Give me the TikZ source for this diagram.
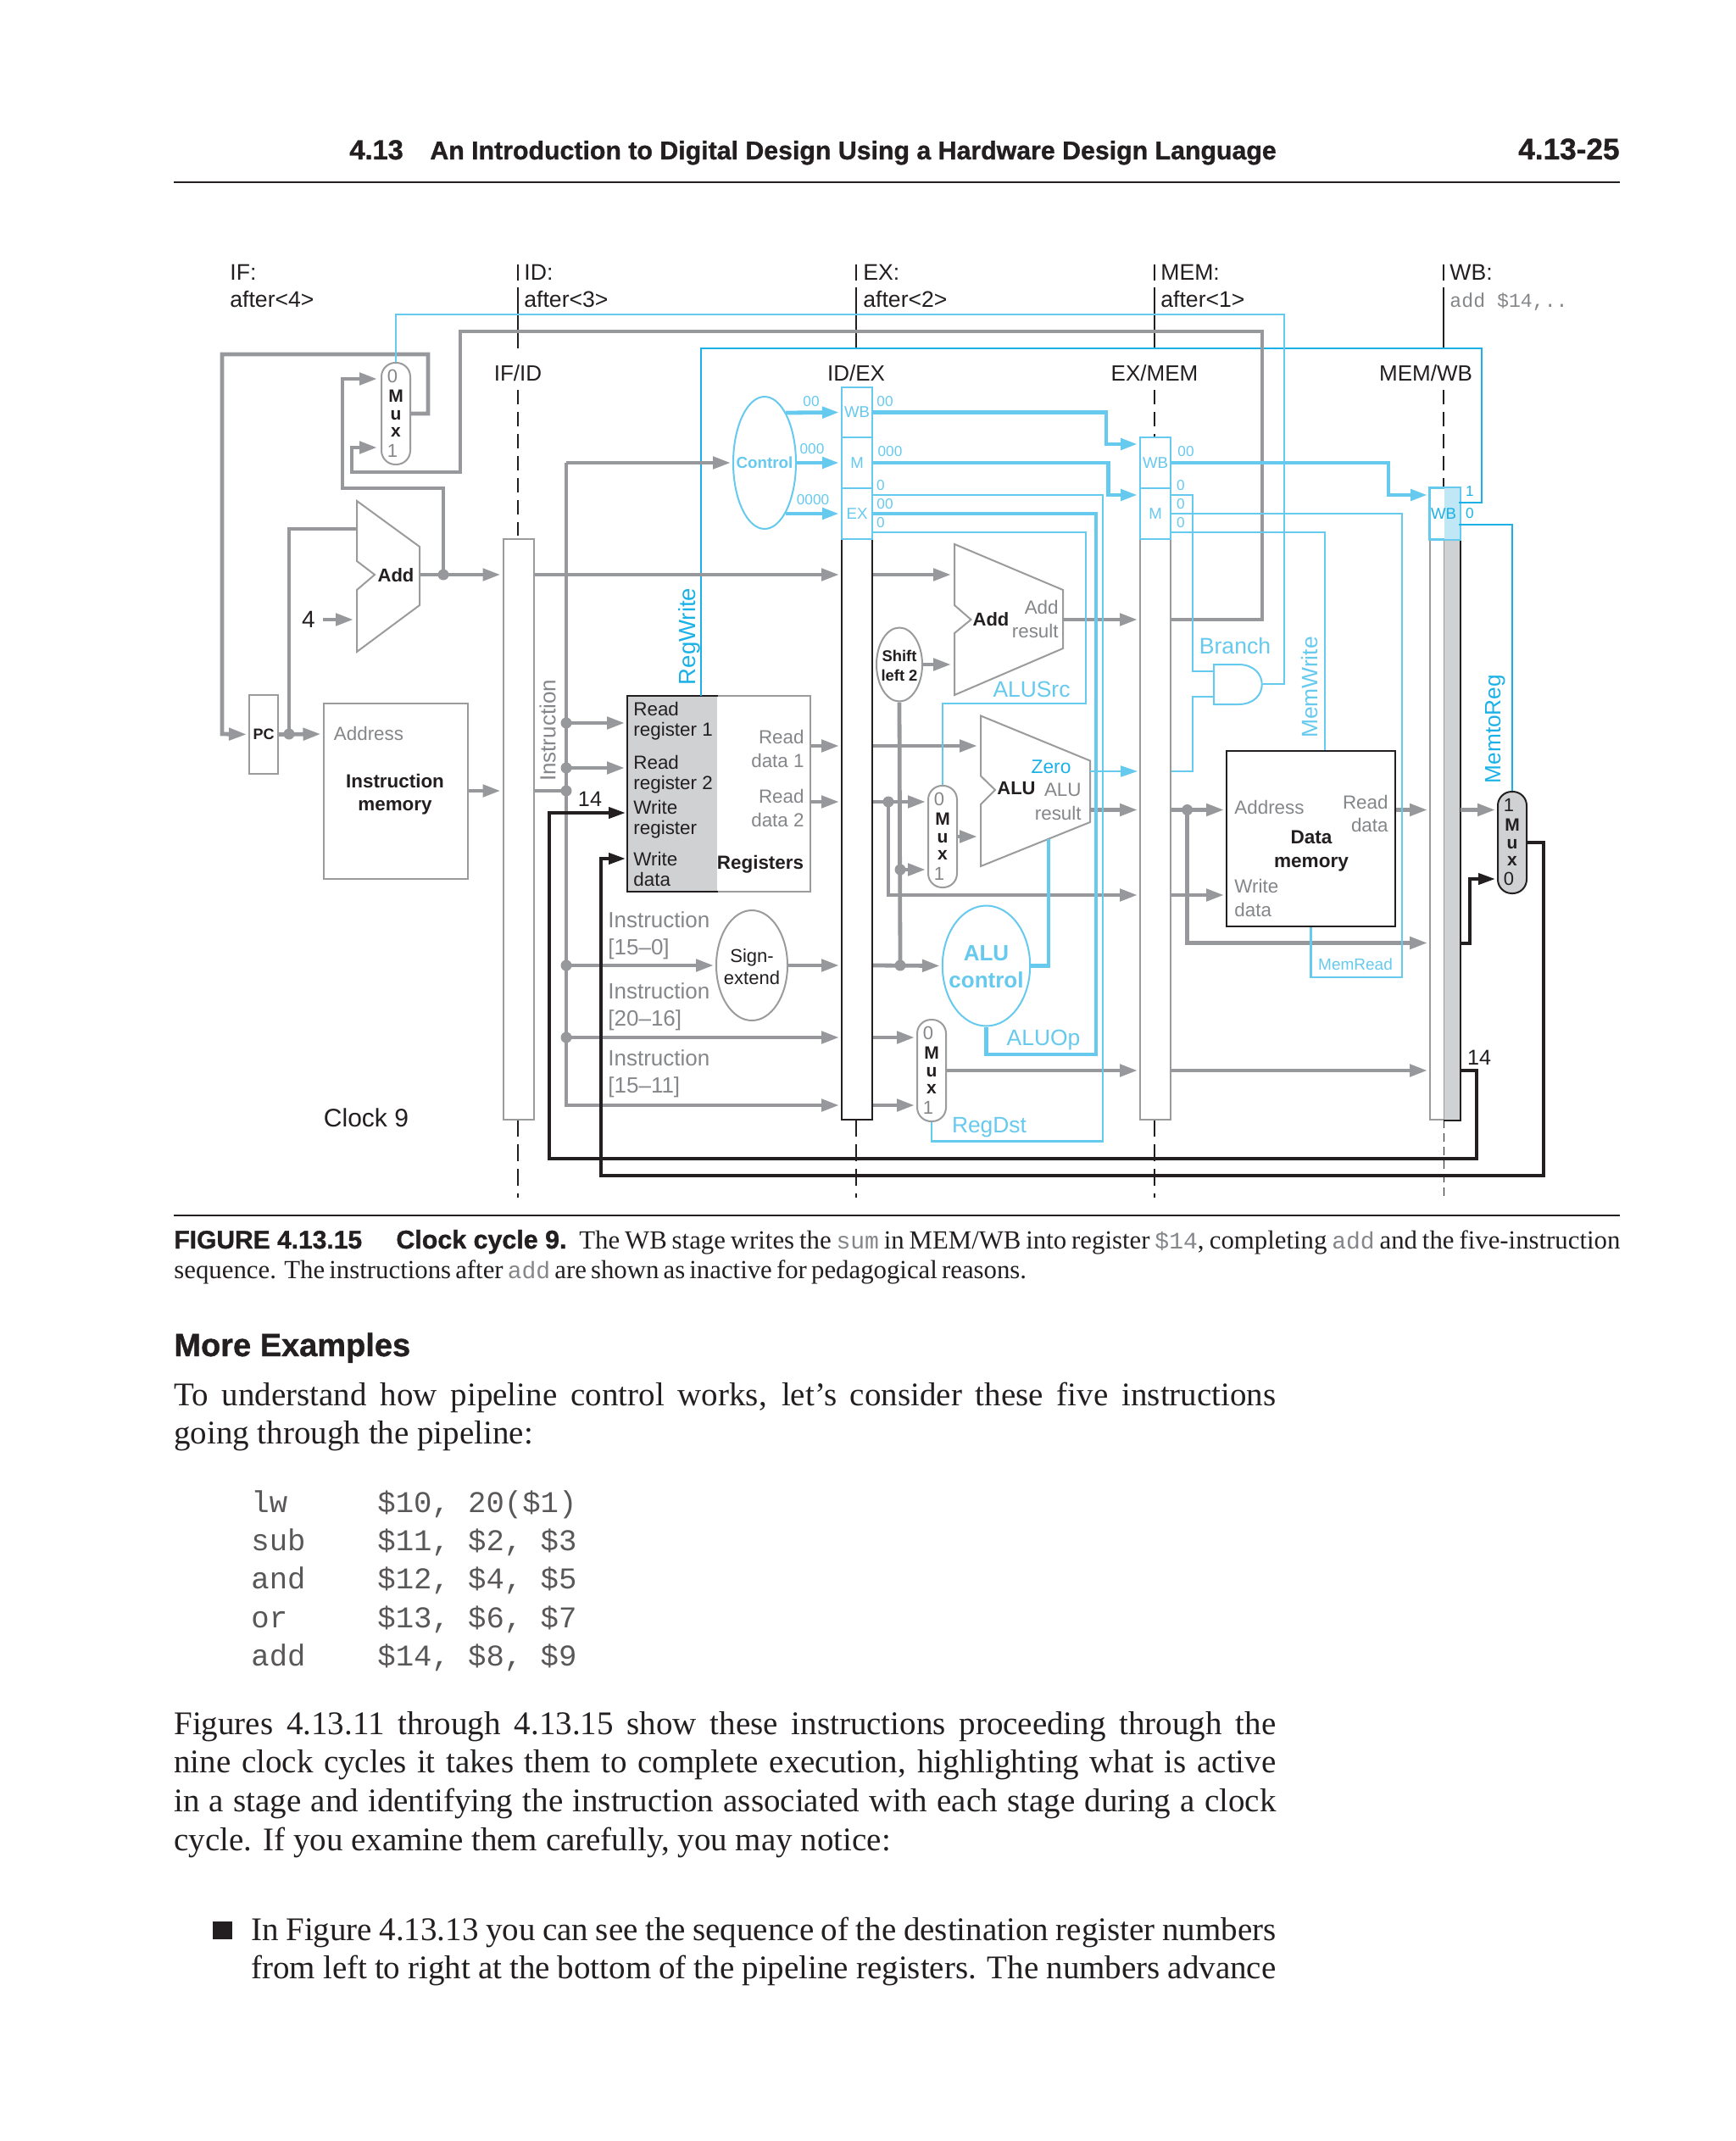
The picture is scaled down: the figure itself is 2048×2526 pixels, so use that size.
\documentclass[tikz,border=0pt]{standalone}
\usepackage{fontspec}
\setmainfont{Liberation Serif}
\setsansfont{Liberation Sans}
\setmonofont{Liberation Mono}
\newfontfamily\heavysans[BoldFeatures={FakeBold=1}]{Liberation Sans}
\usetikzlibrary{arrows.meta,shapes.geometric}
\definecolor{ink}{HTML}{231F20}
\definecolor{wiregray}{HTML}{97989B}
\definecolor{boxgray}{HTML}{9A9B9D}
\definecolor{txtgray}{HTML}{848689}
\definecolor{regfill}{HTML}{CFD1D3}
\definecolor{ctlblue}{HTML}{66C9EE}
\definecolor{deepblue}{HTML}{1CB1E6}
\definecolor{wbshade}{HTML}{BFE7F6}
\tikzset{
  fs/.style 2 args={font=\fontsize{#1}{#2}\selectfont\sffamily,inner sep=0pt,text=ink},
  fsb/.style 2 args={font=\fontsize{#1}{#2}\selectfont\sffamily\bfseries,inner sep=0pt,text=ink},
  fsh/.style={font=\fontsize{#1}{22}\selectfont\heavysans\bfseries,inner sep=0pt,text=ink,anchor=base west},
  bodyline/.style={anchor=base west,inner sep=0pt,text=ink,font=\fontsize{19.5}{22}\selectfont},
  capline/.style={anchor=base west,inner sep=0pt,text=ink,font=\fontsize{15.4}{18}\selectfont},
  codeline/.style={anchor=base west,inner sep=0pt,text=ink!75,font=\fontsize{17.8}{22}\selectfont\ttfamily},
  bar/.style={draw=boxgray,line width=1pt,fill=white,inner sep=0pt,minimum width=18pt,minimum height=342.5pt},
  ctlbox/.style={draw=ctlblue,line width=1pt,fill=white,inner sep=0pt,minimum width=18pt,minimum height=30pt,text=ctlblue,font=\fontsize{9.3}{10}\selectfont\sffamily},
  muxbox/.style={draw=boxgray,line width=1pt,fill=white,rounded corners=8.2pt,inner sep=0pt,minimum width=17pt,minimum height=60pt,align=center,text=ink,font=\fontsize{10.5}{10.25}\selectfont\sffamily\bfseries},
  wire/.style={draw=wiregray,line width=2.4pt,-{Triangle[length=10.5pt,width=7pt]},shorten >=1pt},
  wireplain/.style={draw=wiregray,line width=2.4pt},
  ctlthick/.style={draw=ctlblue,line width=2.4pt,-{Triangle[length=10pt,width=6.5pt]},shorten >=1pt},
  ctlplain/.style={draw=ctlblue,line width=2.4pt},
  ctlthin/.style={draw=ctlblue,line width=1.1pt},
  deepthin/.style={draw=deepblue,line width=1.1pt},
  hotwire/.style={draw=ink,line width=2pt,-{Triangle[length=10pt,width=6.5pt]},shorten >=1pt},
  joint/.style={circle,fill=wiregray,inner sep=0pt,minimum size=6.5pt},
  stageline/.style={draw=ink,line width=0.55pt},
}
\begin{document}
\begin{tikzpicture}[x=0.5pt,y=-0.5pt]
  \useasboundingbox (0,0) rectangle (2048,2526);
  % page head
  \node[fsh=16.3] (headNum) at (412,188) {4.13};
  \node[fsh=15.15] (headTitle) at (507,188) {An Introduction to Digital Design Using a Hardware Design Language};
  \node[fsh=17.6,anchor=base east] (headPage) at (1911,188) {4.13-25};
  \node[minimum width=853pt,minimum height=1pt,inner sep=0pt,fill=ink] (headRule) at (1058,215) {};
  % stage labels
  \node[anchor=base west,fs={13.3}{15}] (stIF) at (271,330) {IF:};
  \node[anchor=base west,fs={13.3}{15}] (aftIF) at (271,362) {after<4>};
  \node[anchor=base west,fs={13.3}{15}] (stID) at (618,330) {ID:};
  \node[anchor=base west,fs={13.3}{15}] (aftID) at (618,362) {after<3>};
  \node[anchor=base west,fs={13.3}{15}] (stEX) at (1018,330) {EX:};
  \node[anchor=base west,fs={13.3}{15}] (aftEX) at (1018,362) {after<2>};
  \node[anchor=base west,fs={13.3}{15}] (stMEM) at (1369,330) {MEM:};
  \node[anchor=base west,fs={13.3}{15}] (aftMEM) at (1369,362) {after<1>};
  \node[anchor=base west,fs={13.3}{15}] (stWB) at (1710,330) {WB:};
  \node[anchor=base west,inner sep=0pt,text=txtgray,font=\fontsize{11.6}{14}\selectfont\ttfamily] (aftWB) at (1710,362) {add \$14,..};
  % stage marks
  \foreach \sx in {611,1010,1362,1703} {
    \draw[stageline] (\sx,312) -- (\sx,331);
    \draw[stageline] (\sx,339) -- (\sx,411);
  }
  \draw[stageline,dash pattern=on 8.5pt off 4.5pt] (611,460) -- (611,632);
  \draw[stageline,dash pattern=on 8.5pt off 4.5pt] (1362,460) -- (1362,516);
  \draw[stageline,dash pattern=on 8.5pt off 4.5pt] (1703,460) -- (1703,576);
  \foreach \sx in {611,1010,1362}
    \draw[stageline,dash pattern=on 10pt off 4.5pt] (\sx,1321) -- (\sx,1413);
  \draw[stageline,line width=0.45pt,dash pattern=on 5pt off 3pt] (1703,1321) -- (1703,1413);
  \node[fs={13}{15}] (lbIFID) at (611,440) {IF/ID};
  \node[fs={13}{15}] (lbIDEX) at (1010,440) {ID/EX};
  \node[fs={13}{15}] (lbEXMEM) at (1362,440) {EX/MEM};
  \node[fs={13}{15}] (lbMEMWB) at (1682,440) {MEM/WB};
  % pipeline registers
  \node[bar] (ifid) at (611.5,978.5) {};
  \node[bar,draw=ink] (idex) at (1011,978.5) {};
  \node[bar] (exmem) at (1363,978.5) {};
  \node[bar,minimum width=8.5pt,anchor=west] (mwbL) at (1686,978.5) {};
  \node[bar,draw=none,fill=regfill,minimum width=9pt,anchor=west] (mwbR) at (1703,978.5) {};
  \draw[draw=ink,line width=1pt] (mwbR.north west) -- (mwbR.north east) -- (mwbR.south east) -- (mwbR.south west);
  \node[ctlbox] (idexWB) at (1011,486.5) {WB};
  \node[ctlbox] (idexM) at (1011,546) {M};
  \node[ctlbox] (idexEX) at (1011,606) {EX};
  \node[ctlbox] (exmemWB) at (1363,546) {WB};
  \node[ctlbox] (exmemM) at (1363,606) {M};
  \node[ctlbox,minimum width=17.5pt,anchor=west,text=deepblue] (mwbWB) at (1686,606) {};
  \node[ctlbox,draw=none,fill=wbshade,minimum width=9pt,anchor=west,text=deepblue] (mwbWBr) at (1703,606) {};
  \draw[draw=ctlblue,line width=1pt] (mwbWB.north west) rectangle (mwbWB.south east);
  \node[inner sep=0pt,text=deepblue,font=\fontsize{9.3}{10}\selectfont\sffamily] (mwbWBtxt) at (1703,606) {WB};
  % fetch
  \node[bar,minimum width=17pt,minimum height=46.5pt] (pc) at (311,866.5) {};
  \node[fsb={9}{10}] (pcTxt) at (311,866) {PC};
  \node[bar,minimum width=85pt,minimum height=103.5pt] (imem) at (466.5,933.5) {};
  \node[fs={11.2}{13},text=txtgray] (imemAddr) at (435,865) {Address};
  \node[fsb={11.2}{13.7},align=center] (imemTxt) at (466,937) {Instruction\\memory};
  \draw[draw=boxgray,line width=1pt,fill=white] (421,591) -- (495,645) -- (495,714) -- (421,769) -- (421,696) -- (442,678) -- (421,662) -- cycle;
  \node[fsb={11}{13}] (addATxt) at (467,679) {Add};
  \node[inner sep=4.5pt,text=ink,font=\fontsize{14}{16}\selectfont\sffamily] (four) at (364,731) {4};
  % mux units
  \foreach \muxname/\cx/\cy in {muxPC/467/488,muxALU/1112/987,muxDst/1099/1263} {
    \node[muxbox] (\muxname) at (\cx,\cy) {M\\u\\x};
    \node[fs={11}{12},text=txtgray] (\muxname-zero) at (\cx-4,\cy-44) {0};
    \node[fs={11}{12},text=txtgray] (\muxname-one) at (\cx-4,\cy+44) {1};
  }
  \node[muxbox,draw=ink,fill=regfill] (muxWB) at (1784,994) {M\\u\\x};
  \node[fs={11}{12}] (muxWB-one) at (1780,950) {1};
  \node[fs={11}{12}] (muxWB-zero) at (1780,1037) {0};
  % registers
  \node[bar,minimum width=108pt,minimum height=115.5pt] (regs) at (848,936.5) {};
  \node[fill=regfill,inner sep=0pt,minimum width=53pt,minimum height=115.5pt,anchor=west] (regsLeft) at (740,936.5) {};
  \draw[draw=ink,line width=1pt] (regsLeft.north east) -- (regsLeft.north west) -- (regsLeft.south west) -- (regsLeft.south east);
  \node[fs={11.2}{12},anchor=west,align=left] (rr1) at (747,851) {Read\\register 1};
  \node[fs={11.2}{12},anchor=west,align=left] (rr2) at (747,914) {Read\\register 2};
  \node[fs={11.2}{12},anchor=west,align=left] (wrg) at (747,967) {Write\\register};
  \node[fs={11.2}{12},anchor=west,align=left] (wdt) at (747,1025) {Write\\data};
  \node[fs={11.2}{14},text=txtgray,anchor=east,align=right] (rd1) at (949,883) {Read\\data 1};
  \node[fs={11.2}{14},text=txtgray,anchor=east,align=right] (rd2) at (949,953) {Read\\data 2};
  \node[fsb={11.2}{13}] (regsTxt) at (897,1020) {Registers};
  \node[fs={12.6}{14}] (num14a) at (696,943) {14};
  \node[fs={13}{15},text=txtgray,rotate=90] (instrTxt) at (646,862) {Instruction};
  \node[fs={13}{16},text=txtgray,anchor=west,align=left] (instA) at (717,1104) {Instruction\\{}[15–0]};
  \node[fs={13}{16},text=txtgray,anchor=west,align=left] (instB) at (717,1188) {Instruction\\{}[20–16]};
  \node[fs={13}{16},text=txtgray,anchor=west,align=left] (instC) at (717,1267) {Instruction\\{}[15–11]};
  \node[draw=boxgray,line width=1pt,fill=white,ellipse,inner sep=0pt,minimum width=42pt,minimum height=65pt] (sign) at (887,1139) {};
  \node[fs={11}{13},align=center] (signTxt) at (887,1141) {Sign-\\extend};
  \node[fs={15}{17}] (clockTxt) at (432,1319) {Clock 9};
  % execute
  \node[draw=ctlblue,line width=1pt,fill=white,ellipse,inner sep=0pt,minimum width=37pt,minimum height=78pt] (ctrl) at (902,546) {};
  \node[fsb={9.4}{11},text=ctlblue] (ctrlTxt) at (902,546) {Control};
  \node[draw=boxgray,line width=1pt,fill=white,ellipse,inner sep=0pt,minimum width=27pt,minimum height=43.5pt] (shift) at (1061,784) {};
  \node[fsb={9.2}{11.5},align=center] (shiftTxt) at (1061,785) {Shift\\left 2};
  \draw[draw=boxgray,line width=1pt,fill=white] (1126,642) -- (1254,696) -- (1254,765) -- (1126,820) -- (1126,747) -- (1145.5,731) -- (1126,714) -- cycle;
  \node[fsb={11}{13}] (addBTxt) at (1169,731) {Add};
  \node[fs={11.2}{14},text=txtgray,anchor=east,align=right] (addBRes) at (1249,730) {Add\\result};
  \draw[draw=boxgray,line width=1pt,fill=white] (1157,844.5) -- (1286,897.5) -- (1286,970) -- (1157,1022) -- (1157,949) -- (1174,932) -- (1157,915.5) -- cycle;
  \node[fsb={11}{13}] (aluTxt) at (1199,930) {ALU};
  \node[fs={11.2}{14},text=txtgray,anchor=east,align=right] (aluRes) at (1276,946) {ALU\\result};
  \node[fs={11.4}{13},text=deepblue] (zeroTxt) at (1240,904.5) {Zero};
  \node[draw=ctlblue,line width=1pt,fill=white,ellipse,inner sep=0pt,minimum width=51.7pt,minimum height=71pt] (aluCtl) at (1163.5,1139.5) {};
  \node[fsb={13}{16},text=ctlblue,align=center] (aluCtlTxt) at (1163.5,1141) {ALU\\control};
  % memory
  \node[bar,draw=ink,minimum width=99.5pt,minimum height=103.5pt] (dmem) at (1546.5,989.5) {};
  \node[fs={11.2}{13},text=txtgray,anchor=west] (dmAddr) at (1456,952) {Address};
  \node[fs={11.2}{13.75},text=txtgray,anchor=east,align=right] (dmRead) at (1638,960) {Read\\data};
  \node[fsb={11.3}{13.75},align=center] (dmTxt) at (1547,1004) {Data\\memory};
  \node[fs={11.2}{14},text=txtgray,anchor=west,align=left] (dmWrite) at (1456,1059) {Write\\data};
  \draw[draw=ctlblue,line width=1pt,fill=white] (1432,784) -- (1461,784) .. controls (1498,784) and (1498,831) .. (1461,831) -- (1432,831) -- cycle;
  % control labels
  \node[fs={8.6}{10},text=ctlblue] (c00a) at (957,474) {00};
  \node[fs={8.6}{10},text=ctlblue] (c000a) at (958,530) {000};
  \node[fs={8.6}{10},text=ctlblue] (c0000a) at (959,590) {0000};
  \node[fs={8.6}{10},text=ctlblue] (c00b) at (1044,474) {00};
  \node[fs={8.6}{10},text=ctlblue] (c000b) at (1050,533) {000};
  \node[fs={8.6}{10},text=ctlblue] (c0b) at (1039,573) {0};
  \node[fs={8.6}{10},text=ctlblue] (c00c) at (1044,595) {00};
  \node[fs={8.6}{10},text=ctlblue] (c0c) at (1039,617) {0};
  \node[fs={8.6}{10},text=ctlblue] (c00d) at (1399,533) {00};
  \node[fs={8.6}{10},text=ctlblue] (c0d) at (1393,573) {0};
  \node[fs={8.6}{10},text=ctlblue] (c0e) at (1393,595) {0};
  \node[fs={8.6}{10},text=ctlblue] (c0f) at (1393,617) {0};
  \node[fs={8.6}{10},text=deepblue] (c1g) at (1734,580) {1};
  \node[fs={8.6}{10},text=deepblue] (c0g) at (1734,606) {0};
  \node[fs={13.8}{16},text=deepblue,rotate=90] (regWrTxt) at (813,751) {RegWrite};
  \node[fs={13.2}{15},text=ctlblue,rotate=90] (memWrTxt) at (1545,811) {MemWrite};
  \node[fs={13.1}{15},text=deepblue,rotate=90] (memRegTxt) at (1764,860) {MemtoReg};
  \node[fs={13.2}{15},text=ctlblue] (srcTxt) at (1217,813) {ALUSrc};
  \node[fs={13.3}{15},text=ctlblue] (brTxt) at (1457,762) {Branch};
  \node[fs={13.2}{15},text=ctlblue] (opTxt) at (1231,1227) {ALUOp};
  \node[fs={13.2}{15},text=ctlblue] (dstTxt) at (1167,1330) {RegDst};
  \node[fs={9.5}{11},text=ctlblue] (mrdTxt) at (1599,1138) {MemRead};
  \node[fs={12.6}{14}] (num14b) at (1745,1248) {14};
  % ports and bends
  \foreach \pname/\px/\py in {
    pcLoopA/505/418,pcLoopB/262/866,pcDot/341/866,addInA/421/624,addInB/419/731,addOut/495/678,addDot/523/678,
    pcBend/404/576,muxInA/447/447,branchTop/1489/391,branchLow/543/557,branchTurn/415/528,muxInB/447/528,
    busCtl/668/546,busR1/668/853,busR2/668/906,busI/668/933,busImm/668/1139,busRt/668/1224,busRd/668/1304,
    rowRd1/956/880,rowRd2/956/946,addBIn1/1124/678,addBIn2/1124/784,addBOut/1254/731,
    aluIn1/1155/880,aluIn2/1155/987,aluOut/1286/955.5,rdDot/1048/946,wdRow/1400/1056,shiftDot/1062/1026,immDot/1062/1139,
    memDot/1400.6/955.5,bypassRow/1400/1112.5,wbIn0/1734/1037,dstLow/1742/1366.5,wrBack/648/959,wdLow/1821/1386.5,wdBack/709/1013,
    ctlWB/927/487,ctlM/939/546,ctlEX/927/606,wbTurnA/1305/524,mTurn/1307.5/584,wbTurnB/1638/584,
    dstCor/1301/1346.5,opCor/1293/1244,srcRow/1281/628,srcCor/1281/830,andTurnA/1407/792,andInA/1432/792,
    aluZero/1286/910,andTurnB/1407/822,andInB/1432/822,andOut/1490/807,pcsrcCor/1515/371,
    memRdRow/1654/606,memRdCor/1654/1153,memWrRow/1563/628,regWrRow/1721/593,regWrTop/1748/411,regWrBot/827/821,
    toRegRow/1721/619,aluCtlUp/1237/990
  } \coordinate (\pname) at (\px,\py);
  % deep blue wires
  \draw[deepthin] (regWrRow) -| (regWrTop) -| (regWrBot);
  \draw[deepthin] (toRegRow) -| (muxWB.north);
  % data path
  \draw[wire] (muxPC.east) -| (pcLoopA) -| (pcLoopB) -- (pc.west);
  \draw[wireplain] (pcDot) |- (addInA);
  \draw[wire] (pc.east) -- (imem.west |- pcDot);
  \draw[wire] (four.east) -- (addInB);
  \draw[wire] (addOut) -- (ifid.west |- addOut);
  \draw[wire] (addDot) |- (pcBend) |- (muxInA);
  \draw[wire] (exmem.east |- addBOut) -| (branchTop) -| (branchLow) -| (branchTurn) -- (muxInB);
  \draw[wire] (ifid.east |- addOut) -- (idex.west |- addOut);
  \draw[wire] (idex.east |- addOut) -- (addBIn1);
  \draw[wire] (imem.east |- busI) -- (ifid.west |- busI);
  \draw[wireplain] (ifid.east |- busI) -- (busI);
  \draw[wire] (busCtl) -- (ctrl.west);
  \draw[wire] (busCtl) -- (busRd) -- (idex.west |- busRd);
  \draw[wire] (busR1) -- (regs.west |- busR1);
  \draw[wire] (busR2) -- (regs.west |- busR2);
  \draw[wire] (busImm) -- (sign.west);
  \draw[wire] (sign.east) -- (idex.west |- busImm);
  \draw[wire] (busRt) -- (idex.west |- busRt);
  \draw[wire] (regs.east |- rowRd1) -- (idex.west |- rowRd1);
  \draw[wire] (regs.east |- rowRd2) -- (idex.west |- rowRd2);
  \draw[wire] (idex.east |- rowRd1) -- (aluIn1);
  \draw[wire] (idex.east |- rowRd2) -- (muxALU.west |- rowRd2);
  \draw[wire] (rdDot) |- (exmem.west |- wdRow);
  \draw[wire] (shiftDot) -- (muxALU.west |- shiftDot);
  \draw[wireplain] (shift.south) -- (immDot);
  \draw[wire] (shift.east) -- (addBIn2);
  \draw[wire] (addBOut) -- (exmem.west |- addBOut);
  \draw[wire] (muxALU.east) -- (aluIn2);
  \draw[wire] (idex.east |- busImm) -- (aluCtl.west);
  \draw[wire] (idex.east |- busRt) -- (muxDst.west |- busRt);
  \draw[wire] (idex.east |- busRd) -- (muxDst.west |- busRd);
  \draw[wire] (aluOut) -- (exmem.west |- aluOut);
  \draw[wire] (muxDst.east) -- (exmem.west |- muxDst.east);
  \draw[wire] (exmem.east |- muxDst.east) -- (mwbL.west |- muxDst.east);
  \draw[wire] (exmem.east |- aluOut) -- (dmem.west |- aluOut);
  \draw[wire] (exmem.east |- wdRow) -- (dmem.west |- wdRow);
  \draw[wire] (memDot) |- (mwbL.west |- bypassRow);
  \draw[wire] (dmem.east |- aluOut) -- (mwbL.west |- aluOut);
  \draw[wire] (mwbR.east |- aluOut) -- (muxWB.west |- aluOut);
  \foreach \dd in {pcDot,addDot,busR1,busR2,busI,busImm,busRt,rdDot,shiftDot,immDot,memDot}
    \node[joint] (dot-\dd) at (\dd) {};
  % control wires
  \draw[ctlthick] (ctlWB) -- (idexWB.west);
  \draw[ctlthick] (ctlM) -- (idexM.west);
  \draw[ctlthick] (ctlEX) -- (idexEX.west);
  \draw[ctlthick] (idexWB.east) -| (wbTurnA) -- (exmemWB.west |- wbTurnA);
  \draw[ctlthick] (idexM.east) -| (mTurn) -- (exmemM.west |- mTurn);
  \draw[ctlthick] (exmemWB.east) -| (wbTurnB) -- (mwbWB.west |- wbTurnB);
  \draw[ctlthin] (idexEX.east |- mTurn) -| (dstCor) -| (muxDst.south);
  \draw[ctlplain] (idexEX.east) -| (opCor) -| (aluCtl.south);
  \draw[ctlthin] (idexEX.east |- srcRow) -| (srcCor) -| (muxALU.north);
  \draw[ctlplain] (aluCtl.east) -| (aluCtlUp);
  \draw[ctlthin] (exmemM.east |- mTurn) -| (andTurnA) -- (andInA);
  \draw[ctlthin,-{Triangle[length=10pt,width=6.5pt]},shorten >=1pt] (aluZero) -- (exmem.west |- aluZero);
  \draw[ctlthin] (exmem.east |- aluZero) -| (andTurnB) -- (andInB);
  \draw[ctlthin] (andOut) -| (pcsrcCor) -| (muxPC.north);
  \draw[ctlthin] (exmemM.east) -| (memRdCor) -| (dmem.south);
  \draw[ctlthin] (exmemM.east |- memWrRow) -- (memWrRow) -- (memWrRow |- dmem.north);
  \draw[deepthin] (mwbWB.east |- toRegRow) -- (toRegRow);
  % active write path
  \draw[hotwire] (mwbR.east |- bypassRow) -| (wbIn0) -- (muxWB.west |- wbIn0);
  \draw[hotwire] (mwbR.east |- muxDst.east) -| (dstLow) -| (wrBack) -- (regsLeft.west |- wrBack);
  \draw[hotwire] (muxWB.east) -| (wdLow) -| (wdBack) -- (regsLeft.west |- wdBack);
  % caption
  \node[minimum width=853pt,minimum height=1.2pt,inner sep=0pt,fill=ink] (capRule) at (1058,1434) {};
  \node[fsh=15] (capFig) at (205,1473) {FIGURE 4.13.15};
  \node[fsh=15.2] (capHead) at (467,1473) {Clock cycle 9.};
  \node[capline] (capA) at (683,1473) {\makebox[614pt][s]{The WB stage writes the {\ttfamily\fontsize{14}{18}\selectfont\color{txtgray}sum} in MEM/WB into register {\ttfamily\fontsize{14}{18}\selectfont\color{txtgray}\$14}, completing {\ttfamily\fontsize{14}{18}\selectfont\color{txtgray}add} and the five-instruction}};
  \node[capline] (capB) at (205,1508) {\makebox[501pt][s]{sequence. The instructions after {\ttfamily\fontsize{14}{18}\selectfont\color{txtgray}add} are shown as inactive for pedagogical reasons.}};
  % body text
  \node[fsh=19] (moreHead) at (205,1600) {More Examples};
  \node[bodyline] (paraA1) at (205,1658) {\makebox[650pt][s]{To understand how pipeline control works, let’s consider these five instructions}};
  \node[bodyline] (paraA2) at (205,1703) {going through the pipeline:};
  \foreach \cname/\copc/\cargs/\cy in {codeA/lw/{\$10, 20(\$1)}/1784,codeB/sub/{\$11, \$2, \$3}/1829,codeC/and/{\$12, \$4, \$5}/1874,codeD/or/{\$13, \$6, \$7}/1920,codeE/add/{\$14, \$8, \$9}/1965} {
    \node[codeline] (\cname-op) at (296,\cy) {\copc};
    \node[codeline] (\cname-arg) at (445,\cy) {\cargs};
  }
  \node[bodyline] (paraB1) at (205,2046) {\makebox[650pt][s]{Figures 4.13.11 through 4.13.15 show these instructions proceeding through the}};
  \node[bodyline] (paraB2) at (205,2091) {\makebox[650pt][s]{nine clock cycles it takes them to complete execution, highlighting what is active}};
  \node[bodyline] (paraB3) at (205,2137) {\makebox[650pt][s]{in a stage and identifying the instruction associated with each stage during a clock}};
  \node[bodyline] (paraB4) at (205,2183) {cycle. If you examine them carefully, you may notice:};
  \node[fill=ink,inner sep=0pt,minimum width=11.5pt,minimum height=10.5pt] (bulletA) at (262.5,2277) {};
  \node[bodyline] (paraC1) at (296,2289) {\makebox[604.5pt][s]{In Figure 4.13.13 you can see the sequence of the destination register numbers}};
  \node[bodyline] (paraC2) at (296,2334) {\makebox[604.5pt][s]{from left to right at the bottom of the pipeline registers. The numbers advance}};
\end{tikzpicture}
\end{document}
